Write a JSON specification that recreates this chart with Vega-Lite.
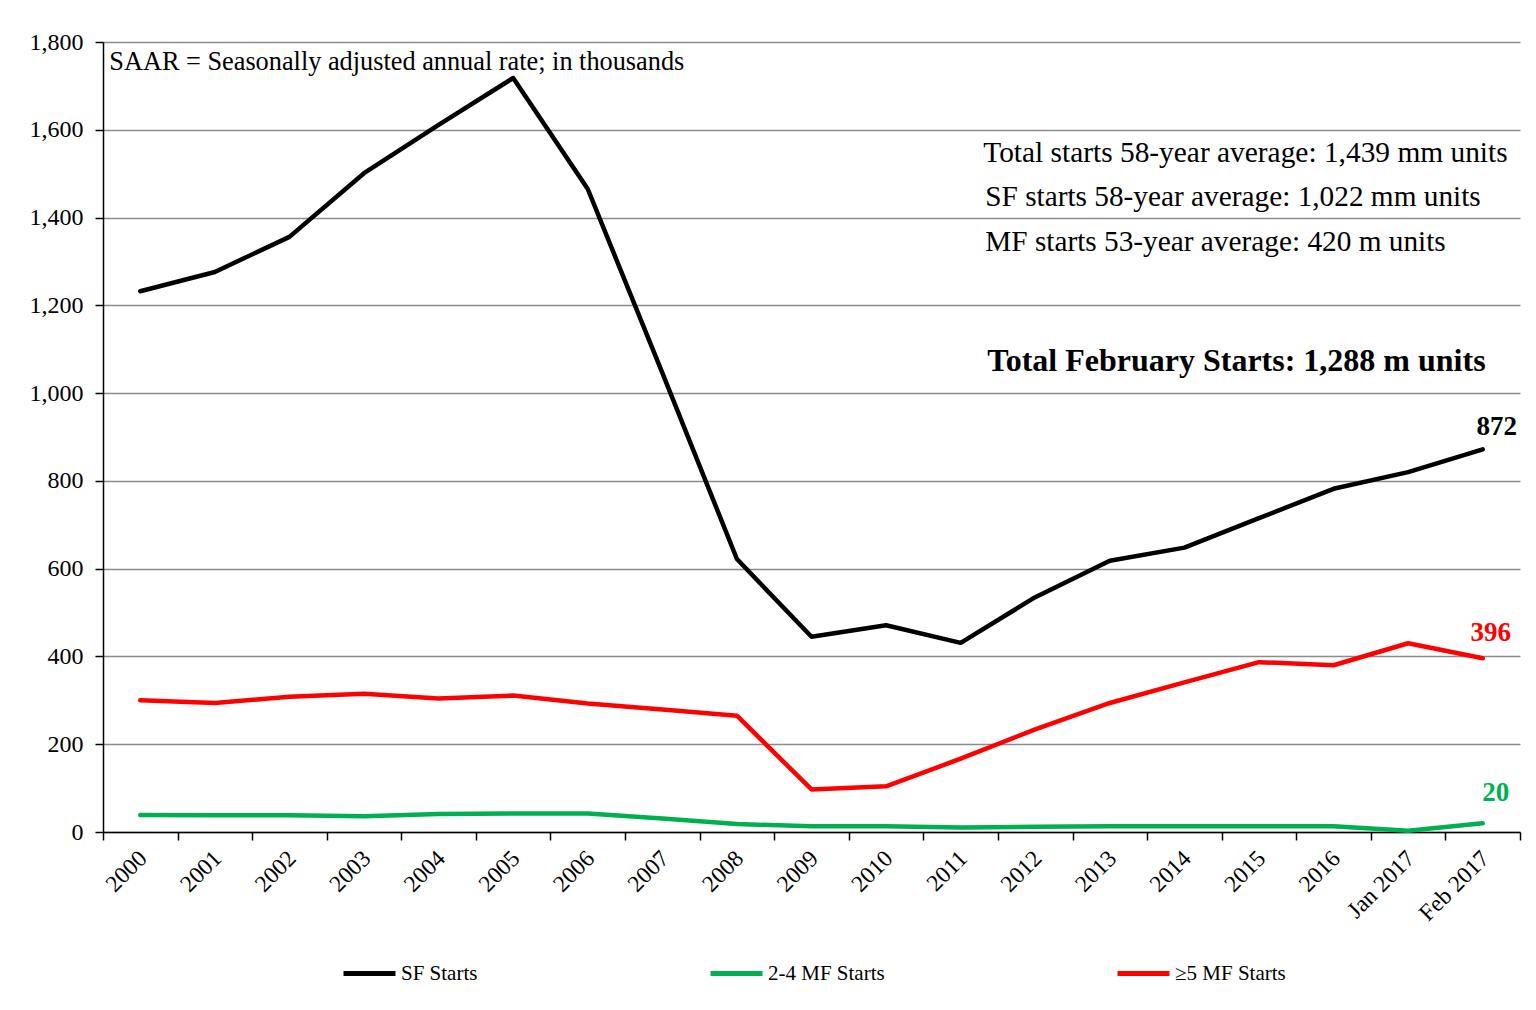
{
  "$schema": "https://vega.github.io/schema/vega-lite/v6.json",
  "width": 1417,
  "height": 790,
  "autosize": {"type": "none"},
  "padding": {"left": 103, "top": 42, "right": 16, "bottom": 178},
  "background": "white",
  "config": {
    "font": "Liberation Serif",
    "view": {"stroke": null}
  },
  "data": {
    "values": [
      {"cat": "2000", "series": "SF Starts", "value": 1232},
      {"cat": "2001", "series": "SF Starts", "value": 1276},
      {"cat": "2002", "series": "SF Starts", "value": 1356},
      {"cat": "2003", "series": "SF Starts", "value": 1501},
      {"cat": "2004", "series": "SF Starts", "value": 1611},
      {"cat": "2005", "series": "SF Starts", "value": 1718},
      {"cat": "2006", "series": "SF Starts", "value": 1465},
      {"cat": "2007", "series": "SF Starts", "value": 1046},
      {"cat": "2008", "series": "SF Starts", "value": 622},
      {"cat": "2009", "series": "SF Starts", "value": 445},
      {"cat": "2010", "series": "SF Starts", "value": 471},
      {"cat": "2011", "series": "SF Starts", "value": 431},
      {"cat": "2012", "series": "SF Starts", "value": 535},
      {"cat": "2013", "series": "SF Starts", "value": 618},
      {"cat": "2014", "series": "SF Starts", "value": 648},
      {"cat": "2015", "series": "SF Starts", "value": 715},
      {"cat": "2016", "series": "SF Starts", "value": 782},
      {"cat": "Jan 2017", "series": "SF Starts", "value": 820},
      {"cat": "Feb 2017", "series": "SF Starts", "value": 872},
      {"cat": "2000", "series": "2-4 MF Starts", "value": 39},
      {"cat": "2001", "series": "2-4 MF Starts", "value": 38},
      {"cat": "2002", "series": "2-4 MF Starts", "value": 38},
      {"cat": "2003", "series": "2-4 MF Starts", "value": 36},
      {"cat": "2004", "series": "2-4 MF Starts", "value": 41},
      {"cat": "2005", "series": "2-4 MF Starts", "value": 42},
      {"cat": "2006", "series": "2-4 MF Starts", "value": 42},
      {"cat": "2007", "series": "2-4 MF Starts", "value": 31},
      {"cat": "2008", "series": "2-4 MF Starts", "value": 18},
      {"cat": "2009", "series": "2-4 MF Starts", "value": 13},
      {"cat": "2010", "series": "2-4 MF Starts", "value": 13},
      {"cat": "2011", "series": "2-4 MF Starts", "value": 10},
      {"cat": "2012", "series": "2-4 MF Starts", "value": 12},
      {"cat": "2013", "series": "2-4 MF Starts", "value": 13},
      {"cat": "2014", "series": "2-4 MF Starts", "value": 13},
      {"cat": "2015", "series": "2-4 MF Starts", "value": 13},
      {"cat": "2016", "series": "2-4 MF Starts", "value": 13},
      {"cat": "Jan 2017", "series": "2-4 MF Starts", "value": 3},
      {"cat": "Feb 2017", "series": "2-4 MF Starts", "value": 20},
      {"cat": "2000", "series": "≥5 MF Starts", "value": 300},
      {"cat": "2001", "series": "≥5 MF Starts", "value": 294},
      {"cat": "2002", "series": "≥5 MF Starts", "value": 308},
      {"cat": "2003", "series": "≥5 MF Starts", "value": 315},
      {"cat": "2004", "series": "≥5 MF Starts", "value": 304},
      {"cat": "2005", "series": "≥5 MF Starts", "value": 311},
      {"cat": "2006", "series": "≥5 MF Starts", "value": 293},
      {"cat": "2007", "series": "≥5 MF Starts", "value": 279},
      {"cat": "2008", "series": "≥5 MF Starts", "value": 265},
      {"cat": "2009", "series": "≥5 MF Starts", "value": 97},
      {"cat": "2010", "series": "≥5 MF Starts", "value": 104},
      {"cat": "2011", "series": "≥5 MF Starts", "value": 167},
      {"cat": "2012", "series": "≥5 MF Starts", "value": 234},
      {"cat": "2013", "series": "≥5 MF Starts", "value": 294},
      {"cat": "2014", "series": "≥5 MF Starts", "value": 341},
      {"cat": "2015", "series": "≥5 MF Starts", "value": 387},
      {"cat": "2016", "series": "≥5 MF Starts", "value": 380},
      {"cat": "Jan 2017", "series": "≥5 MF Starts", "value": 430},
      {"cat": "Feb 2017", "series": "≥5 MF Starts", "value": 396}
    ]
  },
  "encoding": {
    "x": {
      "field": "cat",
      "type": "ordinal",
      "sort": null,
      "bandPosition": 0.5,
      "scale": {"type": "band", "paddingInner": 0, "paddingOuter": 0},
      "axis": {
        "title": null,
        "tickBand": "extent",
        "labelAngle": -45,
        "labelFontSize": 23.5,
        "labelColor": "#000000",
        "labelPadding": 6,
        "labelOffset": -6,
        "tickSize": 8,
        "tickColor": "#000000",
        "tickWidth": 1.5,
        "domainColor": "#000000",
        "domainWidth": 1.5,
        "grid": false
      }
    }
  },
  "layer": [
    {
      "mark": {"type": "line", "strokeWidth": 4.5, "strokeCap": "round", "strokeJoin": "round"},
      "encoding": {
        "y": {
          "field": "value",
          "type": "quantitative",
          "scale": {"domain": [0, 1800], "nice": false},
          "axis": {
            "title": null,
            "values": [0, 200, 400, 600, 800, 1000, 1200, 1400, 1600, 1800],
            "format": ",.0f",
            "labelFontSize": 24,
            "labelColor": "#000000",
            "labelPadding": 12,
            "tickSize": 8,
            "tickColor": "#000000",
            "tickWidth": 1.5,
            "domainColor": "#000000",
            "domainWidth": 1.5,
            "gridColor": "#8c8c8c",
            "gridWidth": 1.5
          }
        },
        "color": {
          "field": "series",
          "type": "nominal",
          "scale": {
            "domain": ["SF Starts", "2-4 MF Starts", "≥5 MF Starts"],
            "range": ["#000000", "#00B050", "#FF0000"]
          },
          "legend": {
            "title": null,
            "orient": "none",
            "legendX": 238,
            "legendY": 903,
            "direction": "horizontal",
            "columns": 3,
            "gridAlign": "none",
            "columnPadding": 222,
            "symbolType": "stroke",
            "symbolSize": 2700,
            "symbolStrokeWidth": 5,
            "labelFontSize": 21,
            "labelColor": "#000000",
            "labelOffset": 3,
            "labelLimit": 300
          }
        }
      }
    },
    {
      "data": {"values": [{}]},
      "mark": {"type": "text", "align": "left", "baseline": "middle", "fontSize": 26.3, "dx": -31, "color": "#000000"},
      "encoding": {
        "x": {"datum": "2000"},
        "y": {"datum": 1754},
        "text": {"value": "SAAR = Seasonally adjusted annual rate; in thousands"}
      }
    },
    {
      "data": {"values": [{}]},
      "mark": {"type": "text", "align": "left", "baseline": "middle", "fontSize": 29.4, "dx": -52, "color": "#000000"},
      "encoding": {
        "x": {"datum": "2012"},
        "y": {"datum": 1547},
        "text": {"value": "Total starts 58-year average: 1,439 mm units"}
      }
    },
    {
      "data": {"values": [{}]},
      "mark": {"type": "text", "align": "left", "baseline": "middle", "fontSize": 29.3, "dx": -50, "color": "#000000"},
      "encoding": {
        "x": {"datum": "2012"},
        "y": {"datum": 1447},
        "text": {"value": "SF starts 58-year average: 1,022 mm units"}
      }
    },
    {
      "data": {"values": [{}]},
      "mark": {"type": "text", "align": "left", "baseline": "middle", "fontSize": 29.3, "dx": -50, "color": "#000000"},
      "encoding": {
        "x": {"datum": "2012"},
        "y": {"datum": 1344},
        "text": {"value": "MF starts 53-year average: 420 m units"}
      }
    },
    {
      "data": {"values": [{}]},
      "mark": {"type": "text", "align": "left", "baseline": "middle", "fontSize": 32, "fontWeight": "bold", "dx": -48, "color": "#000000"},
      "encoding": {
        "x": {"datum": "2012"},
        "y": {"datum": 1073},
        "text": {"value": "Total February Starts: 1,288 m units"}
      }
    },
    {
      "data": {"values": [{}]},
      "mark": {"type": "text", "align": "center", "baseline": "middle", "fontSize": 27, "fontWeight": "bold", "dx": 14, "color": "#000000"},
      "encoding": {
        "x": {"datum": "Feb 2017"},
        "y": {"datum": 923},
        "text": {"value": "872"}
      }
    },
    {
      "data": {"values": [{}]},
      "mark": {"type": "text", "align": "center", "baseline": "middle", "fontSize": 27, "fontWeight": "bold", "dx": 8, "color": "#FF0000"},
      "encoding": {
        "x": {"datum": "Feb 2017"},
        "y": {"datum": 453},
        "text": {"value": "396"}
      }
    },
    {
      "data": {"values": [{}]},
      "mark": {"type": "text", "align": "center", "baseline": "middle", "fontSize": 27, "fontWeight": "bold", "dx": 13, "color": "#00B050"},
      "encoding": {
        "x": {"datum": "Feb 2017"},
        "y": {"datum": 89},
        "text": {"value": "20"}
      }
    }
  ]
}
